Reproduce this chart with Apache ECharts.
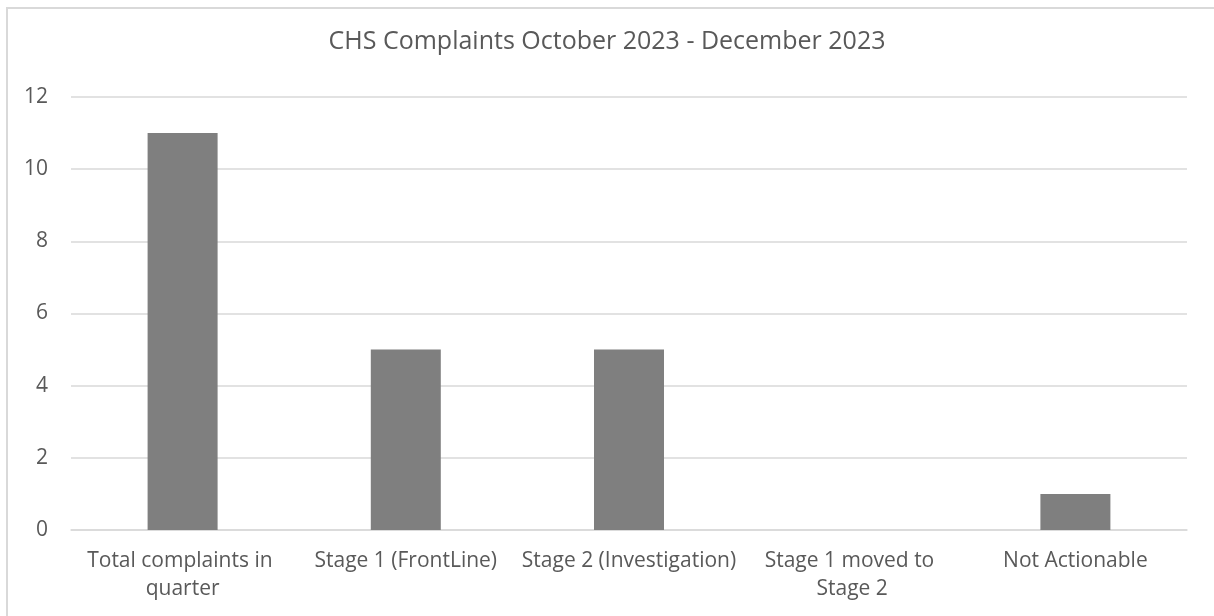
<!DOCTYPE html>
<html>
<head>
<meta charset="utf-8">
<script src="https://cdn.jsdelivr.net/npm/echarts@6/dist/echarts.min.js"></script>
<style>
  html, body { margin: 0; padding: 0; background: #fff; }
  #frame {
    position: absolute; left: 6px; top: 7px; width: 1220px; height: 620px;
    border: 2px solid #d9d9d9; box-sizing: border-box;
  }
  #chart { width: 1214px; height: 616px; position: absolute; left: 0; top: 0; }
</style>
</head>
<body>
<div id="frame"></div>
<div id="chart"></div>
<script>
const categories = [
  'Total complaints in quarter',
  'Stage 1 (FrontLine)',
  'Stage 2 (Investigation)',
  'Stage 1 moved to Stage 2',
  'Not Actionable'
]
const complaints = [11, 5, 5, 0, 1]
const yTicks = { min: 0, max: 12, interval: 2 }

// wrap widths per label, like excel wraps them
const labelWidths = [200, 230, 230, 185, 230]

const chart = echarts.init(document.getElementById('chart'))
const font = '"Open Sans", "Noto Sans", sans-serif'

chart.setOption({
  animation: false,
  title: {
    text: 'CHS Complaints October 2023 - December 2023',
    left: 'center',
    top: 24,
    textStyle: { fontFamily: font, fontSize: 25, fontWeight: 'normal', color: '#595959' }
  },
  grid: { left: 71, right: 27, top: 97, bottom: 86 },
  xAxis: {
    type: 'category',
    data: categories.map((c, i) => ({ value: c, textStyle: { width: labelWidths[i], overflow: 'break' } })),
    axisLine: { lineStyle: { color: '#d9d9d9', width: 1.5 } },
    axisTick: { show: false },
    axisLabel: {
      interval: 0,
      margin: 17,
      overflow: 'break',
      lineHeight: 28,
      fontFamily: font,
      fontSize: 21,
      color: '#595959'
    }
  },
  yAxis: {
    type: 'value',
    min: yTicks.min,
    max: yTicks.max,
    interval: yTicks.interval,
    axisLine: { show: false },
    axisTick: { show: false },
    splitLine: { lineStyle: { color: '#d9d9d9', width: 1.5 } },
    axisLabel: { margin: 23, fontFamily: font, fontSize: 21, color: '#595959' }
  },
  series: [{
    type: 'bar',
    data: complaints,
    barWidth: 70,
    itemStyle: { color: '#7f7f7f' }
  }]
})
</script>
</body>
</html>
